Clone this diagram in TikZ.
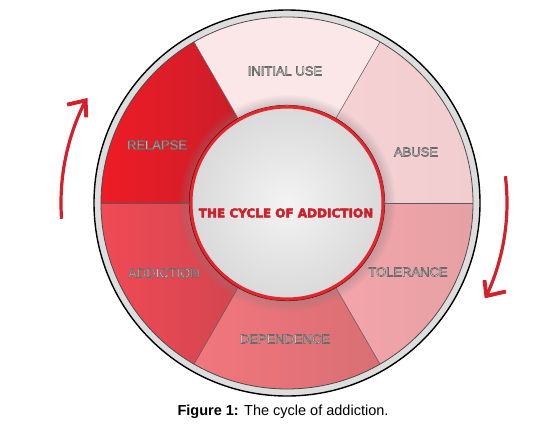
\documentclass[tikz,border=0pt]{standalone}
\usepackage{fontspec}
\setmainfont{Liberation Sans}
\newfontfamily\titlefont{DejaVu Sans}
\usepackage{xcolor}
\usepackage{tikz}
\usetikzlibrary{arrows.meta,shadows,calc}

\definecolor{ringgray}{HTML}{DDDDDD}
\definecolor{initialc}{HTML}{FBE6E8}
\definecolor{abusel}{HTML}{F8D3D6}
\definecolor{abuser}{HTML}{F2CDD0}
\definecolor{tolerl}{HTML}{F8A6AC}
\definecolor{tolerr}{HTML}{E6A1A5}
\definecolor{depl}{HTML}{F2767D}
\definecolor{depr}{HTML}{D96F74}
\definecolor{addl}{HTML}{F04A55}
\definecolor{addr}{HTML}{C9444E}
\definecolor{rell}{HTML}{EE1C25}
\definecolor{relr}{HTML}{BF1E2B}
\definecolor{cyclered}{HTML}{D3202A}
\definecolor{rimred}{HTML}{E4262E}
\definecolor{ballin}{HTML}{F3F3F3}
\definecolor{ballout}{HTML}{C0C0C0}
\definecolor{labelfill}{HTML}{F2F2F2}

\pgfdeclareradialshading{ballshade}{\pgfpoint{0bp}{0bp}}{color(0bp)=(ballin); color(50bp)=(ballout)}

\newcommand{\outlined}[1]{\special{pdf:literal direct q 2 Tr 0.6 w 0.42 0.42 0.42 RG}#1\special{pdf:literal direct Q}}
\newcommand{\heavy}[1]{\special{pdf:literal direct q 2 Tr 0.45 w 0.78 0.12 0.16 RG}#1\special{pdf:literal direct Q}}

\tikzset{
  ringlabel/.style={text=labelfill, font=\fontsize{13}{15}\selectfont},
  divider/.style={black!65, line width=0.5},
  cyclearrow/.style={cyclered, line width=3.2},
  cyclebarb/.style={cyclered, line width=3.9, line join=miter}
}

\begin{document}
\begin{tikzpicture}[x=1pt,y=1pt,>=Latex]
  \useasboundingbox (-287,-229) rectangle (248,203);
  % direction arrows
  \coordinate (leftstart) at (184:226);
  \coordinate (lefttip) at (153:226);
  \coordinate (rightstart) at (7:220);
  \coordinate (righttip) at (-25:220);
  \draw[cyclearrow] (leftstart) arc[start angle=184,end angle=153,radius=226];
  \draw[cyclebarb] ($(lefttip)+(193:19)$) -- (lefttip) -- ($(lefttip)+(272:17)$);
  \draw[cyclearrow] (rightstart) arc[start angle=7,end angle=-25,radius=220];
  \draw[cyclebarb] ($(righttip)+(13:20)$) -- (righttip) -- ($(righttip)+(97:16)$);
  % outer rim
  \fill[ringgray] (0,0) circle (193);
  \draw[line width=1.4] (0,0) circle (193);
  % stages
  \shade[left color=rell,right color=relr] (0,0) -- (120:186) arc[start angle=120,end angle=180,radius=186] -- cycle;
  \fill[initialc] (0,0) -- (60:186) arc[start angle=60,end angle=120,radius=186] -- cycle;
  \shade[left color=abusel,right color=abuser] (0,0) -- (0:186) arc[start angle=0,end angle=60,radius=186] -- cycle;
  \shade[left color=tolerl,right color=tolerr] (0,0) -- (-60:186) arc[start angle=-60,end angle=0,radius=186] -- cycle;
  \shade[left color=depl,right color=depr] (0,0) -- (240:186) arc[start angle=240,end angle=300,radius=186] -- cycle;
  \shade[left color=addl,right color=addr] (0,0) -- (180:186) arc[start angle=180,end angle=240,radius=186] -- cycle;
  \foreach \a in {0,60,...,300}
    \draw[divider] (\a:96) -- (\a:186);
  \draw[black!70, line width=0.8] (0,0) circle (186);
  % hub
  \path[circular drop shadow={shadow xshift=0pt,shadow yshift=0pt,shadow scale=1.12,opacity=0.55}] (0,0) circle (97);
  \shade[shading=ballshade] (0,0) circle (96);
  \draw[rimred, line width=3] (0,0) circle (96);
  \draw[red!45!black, line width=0.5] (0,0) circle (97.8);
  \node (title) at (-1,-10) {\titlefont\bfseries\fontsize{12}{14}\selectfont\color{cyclered}\heavy{THE CYCLE OF ADDICTION}};
  % stage labels
  \node[ringlabel] (initial) at (-2,132) {\outlined{INITIAL USE}};
  \node[ringlabel] (abuse) at (129,51) {\outlined{ABUSE}};
  \node[ringlabel] (tolerance) at (121,-69) {\outlined{TOLERANCE}};
  \node[ringlabel] (dependence) at (-2,-136) {\outlined{DEPENDENCE}};
  \node[ringlabel] (addiction) at (-123,-70) {\outlined{ADDICTION}};
  \node[ringlabel] (relapse) at (-130,58) {\outlined{RELAPSE}};
  \node (caption) at (-4,-209) {\fontsize{14.5}{17}\selectfont\textbf{Figure 1:} The cycle of addiction.};
\end{tikzpicture}
\end{document}
